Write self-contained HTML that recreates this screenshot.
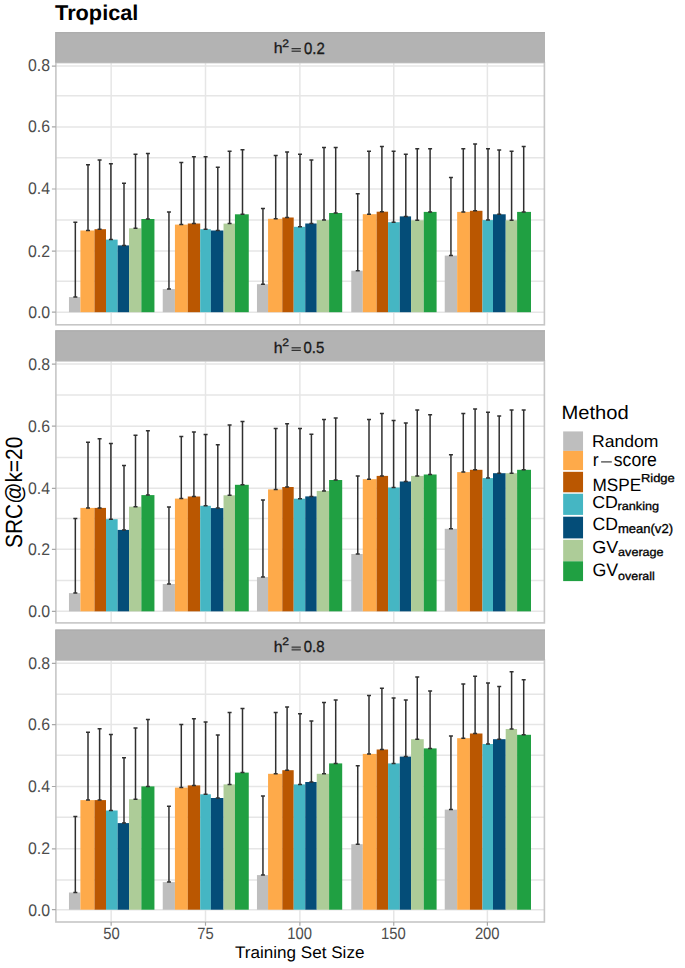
<!DOCTYPE html>
<html><head><meta charset="utf-8"><title>Tropical</title><style>
html,body{margin:0;padding:0;background:#fff;overflow:hidden;}
svg{display:block;}
text{font-family:"Liberation Sans",sans-serif;white-space:pre;text-rendering:geometricPrecision;}
</style></head><body>
<svg width="685" height="968" viewBox="0 0 685 968">
<rect x="0" y="0" width="685" height="968" fill="#fff"/>
<path d="M55.9 66.04H544.4M55.9 95.8H544.4M55.9 126.9H544.4M55.9 157.85H544.4M55.9 189H544.4M55.9 219.95H544.4M55.9 251.08H544.4M55.9 281.2H544.4M55.9 312.2H544.4M111.15 62.6V324.8M205.5 62.6V324.8M299.9 62.6V324.8M393.75 62.6V324.8M487.4 62.6V324.8" stroke="#E6E6E6" stroke-width="1.5" fill="none"/>
<rect x="68.96" y="297.1" width="11.44" height="15.1" fill="#BEBEBE"/>
<rect x="80.4" y="230.5" width="14.1" height="81.7" fill="#FEAA4A"/>
<rect x="94.5" y="229.2" width="11.5" height="83" fill="#BA5701"/>
<rect x="106" y="239.6" width="11.65" height="72.6" fill="#45B6C3"/>
<rect x="117.65" y="245.4" width="11.41" height="66.8" fill="#044D78"/>
<rect x="129.06" y="228.3" width="12.29" height="83.9" fill="#ADCC98"/>
<rect x="141.35" y="219" width="13.09" height="93.2" fill="#20A042"/>
<rect x="162.74" y="289.1" width="12.19" height="23.1" fill="#BEBEBE"/>
<rect x="174.93" y="224.6" width="12.85" height="87.6" fill="#FEAA4A"/>
<rect x="187.78" y="223.5" width="12.42" height="88.7" fill="#BA5701"/>
<rect x="200.2" y="229.2" width="10.65" height="83" fill="#45B6C3"/>
<rect x="210.85" y="230.5" width="12.69" height="81.7" fill="#044D78"/>
<rect x="223.54" y="223.6" width="11.41" height="88.6" fill="#ADCC98"/>
<rect x="234.95" y="214.3" width="13.81" height="97.9" fill="#20A042"/>
<rect x="256.96" y="284.2" width="11.1" height="28" fill="#BEBEBE"/>
<rect x="268.06" y="218.8" width="14.23" height="93.4" fill="#FEAA4A"/>
<rect x="282.29" y="217.5" width="11.41" height="94.7" fill="#BA5701"/>
<rect x="293.7" y="226.8" width="11.55" height="85.4" fill="#45B6C3"/>
<rect x="305.25" y="223.5" width="11.49" height="88.7" fill="#044D78"/>
<rect x="316.74" y="220.1" width="12.36" height="92.1" fill="#ADCC98"/>
<rect x="329.1" y="213" width="13.1" height="99.2" fill="#20A042"/>
<rect x="351.26" y="270.7" width="11.53" height="41.5" fill="#BEBEBE"/>
<rect x="362.79" y="214.2" width="13.87" height="98" fill="#FEAA4A"/>
<rect x="376.66" y="211.7" width="11.4" height="100.5" fill="#BA5701"/>
<rect x="388.06" y="222.2" width="11.74" height="90" fill="#45B6C3"/>
<rect x="399.8" y="216.4" width="11.26" height="95.8" fill="#044D78"/>
<rect x="411.06" y="220.3" width="12.69" height="91.9" fill="#ADCC98"/>
<rect x="423.75" y="211.9" width="12.85" height="100.3" fill="#20A042"/>
<rect x="444.74" y="255.6" width="12.41" height="56.6" fill="#BEBEBE"/>
<rect x="457.15" y="211.9" width="12.78" height="100.3" fill="#FEAA4A"/>
<rect x="469.93" y="210.8" width="12.52" height="101.4" fill="#BA5701"/>
<rect x="482.45" y="220.1" width="10.55" height="92.1" fill="#45B6C3"/>
<rect x="493" y="214.3" width="12.7" height="97.9" fill="#044D78"/>
<rect x="505.7" y="220.3" width="11.4" height="91.9" fill="#ADCC98"/>
<rect x="517.1" y="211.9" width="13.9" height="100.3" fill="#20A042"/>
<path d="M73.33 222.3H77.33M75.33 222.3V297.1M73.33 297.1H77.33M86 164.7H90M88 164.7V230.5M86 230.5H90M97.6 160.1H101.6M99.6 160.1V229.2M97.6 229.2H101.6M108.9 163.8H112.9M110.9 163.8V239.6M108.9 239.6H112.9M122 183.3H126M124 183.3V245.4M122 245.4H126M133.5 154.3H137.5M135.5 154.3V228.3M133.5 228.3H137.5M145.9 153.4H149.9M147.9 153.4V219M145.9 219H149.9M166.95 211.9H170.95M168.95 211.9V289.1M166.95 289.1H170.95M179.3 162.5H183.3M181.3 162.5V224.6M179.3 224.6H183.3M191.9 156.7H195.9M193.9 156.7V223.5M191.9 223.5H195.9M203.6 156.7H207.6M205.6 156.7V229.2M203.6 229.2H207.6M215.8 167.3H219.8M217.8 167.3V230.5M215.8 230.5H219.8M227.6 151.2H231.6M229.6 151.2V223.6M227.6 223.6H231.6M240.5 149.7H244.5M242.5 149.7V214.3M240.5 214.3H244.5M260.95 208.6H264.95M262.95 208.6V284.2M260.95 284.2H264.95M273.7 155.4H277.7M275.7 155.4V218.8M273.7 218.8H277.7M285.1 152.1H289.1M287.1 152.1V217.5M285.1 217.5H289.1M298 154.3H302M300 154.3V226.8M298 226.8H302M309.4 160.1H313.4M311.4 160.1V223.5M309.4 223.5H313.4M322 147.6H326M324 147.6V220.1M322 220.1H326M333.7 147.6H337.7M335.7 147.6V213M333.7 213H337.7M355.74 193.7H359.74M357.74 193.7V270.7M355.74 270.7H359.74M367 151.2H371M369 151.2V214.2M367 214.2H371M379.9 146.5H383.9M381.9 146.5V211.7M379.9 211.7H383.9M391.6 151.2H395.6M393.6 151.2V222.2M391.6 222.2H395.6M403.8 154.3H407.8M405.8 154.3V216.4M403.8 216.4H407.8M415.25 148.7H419.25M417.25 148.7V220.3M415.25 220.3H419.25M428.1 148.7H432.1M430.1 148.7V211.9M428.1 211.9H432.1M448.94 177.5H452.94M450.94 177.5V255.6M448.94 255.6H452.94M461.3 148.7H465.3M463.3 148.7V211.9M461.3 211.9H465.3M473.1 144.1H477.1M475.1 144.1V210.8M473.1 210.8H477.1M486 148.7H490M488 148.7V220.1M486 220.1H490M497.2 149.9H501.2M499.2 149.9V214.3M497.2 214.3H501.2M509.6 151.2H513.6M511.6 151.2V220.3M509.6 220.3H513.6M521.7 146.5H525.7M523.7 146.5V211.9M521.7 211.9H525.7" stroke="#303030" stroke-width="1.5" fill="none"/>
<rect x="55.9" y="62.6" width="488.5" height="262.2" fill="none" stroke="#C6C6C6" stroke-width="1.6"/>
<rect x="55.3" y="32" width="489.7" height="30.6" fill="#B3B3B3"/>
<path d="M55.9 62.6V32.6H545" stroke="#ADADAD" stroke-width="1.2" fill="none"/>
<rect x="291.6" y="48" width="9.2" height="3.8" fill="#939393"/><rect x="291.6" y="48" width="9.2" height="1.05" fill="#333"/><rect x="291.6" y="50.75" width="9.2" height="1.05" fill="#333"/>
<path d="M51.9 66.04H55.9M51.9 126.9H55.9M51.9 189H55.9M51.9 251.08H55.9M51.9 312.2H55.9" stroke="#A8A8A8" stroke-width="1.2" fill="none"/>
<path d="M55.9 364.04H544.4M55.9 394.9H544.4M55.9 426.15H544.4M55.9 457.4H544.4M55.9 488.3H544.4M55.9 518.6H544.4M55.9 549.34H544.4M55.9 580.5H544.4M55.9 611.35H544.4M111.15 360.9V622.9M205.5 360.9V622.9M299.9 360.9V622.9M393.75 360.9V622.9M487.4 360.9V622.9" stroke="#E6E6E6" stroke-width="1.5" fill="none"/>
<rect x="68.96" y="593.1" width="11.44" height="18.25" fill="#BEBEBE"/>
<rect x="80.4" y="507.9" width="14.1" height="103.45" fill="#FEAA4A"/>
<rect x="94.5" y="507.9" width="11.5" height="103.45" fill="#BA5701"/>
<rect x="106" y="519.2" width="11.65" height="92.15" fill="#45B6C3"/>
<rect x="117.65" y="529.9" width="11.41" height="81.45" fill="#044D78"/>
<rect x="129.06" y="506.7" width="12.29" height="104.65" fill="#ADCC98"/>
<rect x="141.35" y="495.1" width="13.09" height="116.25" fill="#20A042"/>
<rect x="162.74" y="584" width="12.19" height="27.35" fill="#BEBEBE"/>
<rect x="174.93" y="498.6" width="12.85" height="112.75" fill="#FEAA4A"/>
<rect x="187.78" y="496.5" width="12.42" height="114.85" fill="#BA5701"/>
<rect x="200.2" y="505.8" width="10.65" height="105.55" fill="#45B6C3"/>
<rect x="210.85" y="508.1" width="12.69" height="103.25" fill="#044D78"/>
<rect x="223.54" y="495.3" width="11.41" height="116.05" fill="#ADCC98"/>
<rect x="234.95" y="484.8" width="13.81" height="126.55" fill="#20A042"/>
<rect x="256.96" y="577.1" width="11.1" height="34.25" fill="#BEBEBE"/>
<rect x="268.06" y="489.4" width="14.23" height="121.95" fill="#FEAA4A"/>
<rect x="282.29" y="487" width="11.41" height="124.35" fill="#BA5701"/>
<rect x="293.7" y="498.7" width="11.55" height="112.65" fill="#45B6C3"/>
<rect x="305.25" y="496.4" width="11.49" height="114.95" fill="#044D78"/>
<rect x="316.74" y="490.9" width="12.36" height="120.45" fill="#ADCC98"/>
<rect x="329.1" y="480" width="13.1" height="131.35" fill="#20A042"/>
<rect x="351.26" y="554" width="11.53" height="57.35" fill="#BEBEBE"/>
<rect x="362.79" y="479.2" width="13.87" height="132.15" fill="#FEAA4A"/>
<rect x="376.66" y="475.9" width="11.4" height="135.45" fill="#BA5701"/>
<rect x="388.06" y="487.5" width="11.74" height="123.85" fill="#45B6C3"/>
<rect x="399.8" y="481.5" width="11.26" height="129.85" fill="#044D78"/>
<rect x="411.06" y="475.9" width="12.69" height="135.45" fill="#ADCC98"/>
<rect x="423.75" y="474.5" width="12.85" height="136.85" fill="#20A042"/>
<rect x="444.74" y="528.8" width="12.41" height="82.55" fill="#BEBEBE"/>
<rect x="457.15" y="472.1" width="12.78" height="139.25" fill="#FEAA4A"/>
<rect x="469.93" y="469.8" width="12.52" height="141.55" fill="#BA5701"/>
<rect x="482.45" y="478.1" width="10.55" height="133.25" fill="#45B6C3"/>
<rect x="493" y="473.2" width="12.7" height="138.15" fill="#044D78"/>
<rect x="505.7" y="473.2" width="11.4" height="138.15" fill="#ADCC98"/>
<rect x="517.1" y="469.8" width="13.9" height="141.55" fill="#20A042"/>
<path d="M73.33 518.4H77.33M75.33 518.4V593.1M73.33 593.1H77.33M86 442.3H90M88 442.3V507.9M86 507.9H90M97.6 438.8H101.6M99.6 438.8V507.9M97.6 507.9H101.6M108.9 443.5H112.9M110.9 443.5V519.2M108.9 519.2H112.9M122 465.4H126M124 465.4V529.9M122 529.9H126M133.5 435.2H137.5M135.5 435.2V506.7M133.5 506.7H137.5M145.9 430.7H149.9M147.9 430.7V495.1M145.9 495.1H149.9M166.95 507.1H170.95M168.95 507.1V584M166.95 584H170.95M179.3 436.6H183.3M181.3 436.6V498.6M179.3 498.6H183.3M191.9 432.1H195.9M193.9 432.1V496.5M191.9 496.5H195.9M203.6 434.6H207.6M205.6 434.6V505.8M203.6 505.8H207.6M215.8 444.7H219.8M217.8 444.7V508.1M215.8 508.1H219.8M227.6 425.1H231.6M229.6 425.1V495.3M227.6 495.3H231.6M240.5 421.6H244.5M242.5 421.6V484.8M240.5 484.8H244.5M260.95 500H264.95M262.95 500V577.1M260.95 577.1H264.95M273.7 428.5H277.7M275.7 428.5V489.4M273.7 489.4H277.7M285.1 423.8H289.1M287.1 423.8V487M285.1 487H289.1M298 428.5H302M300 428.5V498.7M298 498.7H302M309.4 434.3H313.4M311.4 434.3V496.4M309.4 496.4H313.4M322 419.4H326M324 419.4V490.9M322 490.9H326M333.7 418.1H337.7M335.7 418.1V480M333.7 480H337.7M355.74 475.9H359.74M357.74 475.9V554M355.74 554H359.74M367 419.4H371M369 419.4V479.2M367 479.2H371M379.9 413.4H383.9M381.9 413.4V475.9M379.9 475.9H383.9M391.6 420.5H395.6M393.6 420.5V487.5M391.6 487.5H395.6M403.8 423H407.8M405.8 423V481.5M403.8 481.5H407.8M415.25 410H419.25M417.25 410V475.9M415.25 475.9H419.25M428.1 414.7H432.1M430.1 414.7V474.5M428.1 474.5H432.1M448.94 454.7H452.94M450.94 454.7V528.8M448.94 528.8H452.94M461.3 413.4H465.3M463.3 413.4V472.1M461.3 472.1H465.3M473.1 408.9H477.1M475.1 408.9V469.8M473.1 469.8H477.1M486 412.3H490M488 412.3V478.1M486 478.1H490M497.2 416.1H501.2M499.2 416.1V473.2M497.2 473.2H501.2M509.6 410H513.6M511.6 410V473.2M509.6 473.2H513.6M521.7 410H525.7M523.7 410V469.8M521.7 469.8H525.7" stroke="#303030" stroke-width="1.5" fill="none"/>
<rect x="55.9" y="360.9" width="488.5" height="262" fill="none" stroke="#C6C6C6" stroke-width="1.6"/>
<rect x="55.3" y="330.3" width="489.7" height="30.6" fill="#B3B3B3"/>
<path d="M55.9 360.9V330.9H545" stroke="#ADADAD" stroke-width="1.2" fill="none"/>
<rect x="291.6" y="347.2" width="9.2" height="3.8" fill="#939393"/><rect x="291.6" y="347.2" width="9.2" height="1.05" fill="#333"/><rect x="291.6" y="349.95" width="9.2" height="1.05" fill="#333"/>
<path d="M51.9 364.04H55.9M51.9 426.15H55.9M51.9 488.3H55.9M51.9 549.34H55.9M51.9 611.35H55.9" stroke="#A8A8A8" stroke-width="1.2" fill="none"/>
<path d="M55.9 663.3H544.4M55.9 694.2H544.4M55.9 724.6H544.4M55.9 755.34H544.4M55.9 786.5H544.4M55.9 817.2H544.4M55.9 848.8H544.4M55.9 879.95H544.4M55.9 909.7H544.4M111.15 660.1V922M205.5 660.1V922M299.9 660.1V922M393.75 660.1V922M487.4 660.1V922" stroke="#E6E6E6" stroke-width="1.5" fill="none"/>
<rect x="68.96" y="892.5" width="11.44" height="17.2" fill="#BEBEBE"/>
<rect x="80.4" y="800.1" width="14.1" height="109.6" fill="#FEAA4A"/>
<rect x="94.5" y="800.1" width="11.5" height="109.6" fill="#BA5701"/>
<rect x="106" y="810.5" width="11.65" height="99.2" fill="#45B6C3"/>
<rect x="117.65" y="823.1" width="11.41" height="86.6" fill="#044D78"/>
<rect x="129.06" y="799.2" width="12.29" height="110.5" fill="#ADCC98"/>
<rect x="141.35" y="786.4" width="13.09" height="123.3" fill="#20A042"/>
<rect x="162.74" y="882.1" width="12.19" height="27.6" fill="#BEBEBE"/>
<rect x="174.93" y="787.6" width="12.85" height="122.1" fill="#FEAA4A"/>
<rect x="187.78" y="785.4" width="12.42" height="124.3" fill="#BA5701"/>
<rect x="200.2" y="794.3" width="10.65" height="115.4" fill="#45B6C3"/>
<rect x="210.85" y="798" width="12.69" height="111.7" fill="#044D78"/>
<rect x="223.54" y="784.4" width="11.41" height="125.3" fill="#ADCC98"/>
<rect x="234.95" y="772.6" width="13.81" height="137.1" fill="#20A042"/>
<rect x="256.96" y="875.1" width="11.1" height="34.6" fill="#BEBEBE"/>
<rect x="268.06" y="773.8" width="14.23" height="135.9" fill="#FEAA4A"/>
<rect x="282.29" y="770.2" width="11.41" height="139.5" fill="#BA5701"/>
<rect x="293.7" y="784.4" width="11.55" height="125.3" fill="#45B6C3"/>
<rect x="305.25" y="782" width="11.49" height="127.7" fill="#044D78"/>
<rect x="316.74" y="773.8" width="12.36" height="135.9" fill="#ADCC98"/>
<rect x="329.1" y="763.4" width="13.1" height="146.3" fill="#20A042"/>
<rect x="351.26" y="844.2" width="11.53" height="65.5" fill="#BEBEBE"/>
<rect x="362.79" y="753.9" width="13.87" height="155.8" fill="#FEAA4A"/>
<rect x="376.66" y="749.5" width="11.4" height="160.2" fill="#BA5701"/>
<rect x="388.06" y="763.4" width="11.74" height="146.3" fill="#45B6C3"/>
<rect x="399.8" y="756.6" width="11.26" height="153.1" fill="#044D78"/>
<rect x="411.06" y="739.2" width="12.69" height="170.5" fill="#ADCC98"/>
<rect x="423.75" y="748.4" width="12.85" height="161.3" fill="#20A042"/>
<rect x="444.74" y="809.6" width="12.41" height="100.1" fill="#BEBEBE"/>
<rect x="457.15" y="738.2" width="12.78" height="171.5" fill="#FEAA4A"/>
<rect x="469.93" y="733.5" width="12.52" height="176.2" fill="#BA5701"/>
<rect x="482.45" y="744" width="10.55" height="165.7" fill="#45B6C3"/>
<rect x="493" y="739.2" width="12.7" height="170.5" fill="#044D78"/>
<rect x="505.7" y="729" width="11.4" height="180.7" fill="#ADCC98"/>
<rect x="517.1" y="734.8" width="13.9" height="174.9" fill="#20A042"/>
<path d="M73.33 816.6H77.33M75.33 816.6V892.5M73.33 892.5H77.33M86 732.2H90M88 732.2V800.1M86 800.1H90M97.6 728.8H101.6M99.6 728.8V800.1M97.6 800.1H101.6M108.9 734.6H112.9M110.9 734.6V810.5M108.9 810.5H112.9M122 757.8H126M124 757.8V823.1M122 823.1H126M133.5 727.9H137.5M135.5 727.9V799.2M133.5 799.2H137.5M145.9 719.4H149.9M147.9 719.4V786.4M145.9 786.4H149.9M166.95 806.2H170.95M168.95 806.2V882.1M166.95 882.1H170.95M179.3 724.5H183.3M181.3 724.5V787.6M179.3 787.6H183.3M191.9 718.7H195.9M193.9 718.7V785.4M191.9 785.4H195.9M203.6 722.1H207.6M205.6 722.1V794.3M203.6 794.3H207.6M215.8 734.9H219.8M217.8 734.9V798M215.8 798H219.8M227.6 712.6H231.6M229.6 712.6V784.4M227.6 784.4H231.6M240.5 708.5H244.5M242.5 708.5V772.6M240.5 772.6H244.5M260.95 796H264.95M262.95 796V875.1M260.95 875.1H264.95M273.7 712.6H277.7M275.7 712.6V773.8M273.7 773.8H277.7M285.1 707.1H289.1M287.1 707.1V770.2M285.1 770.2H289.1M298 713.8H302M300 713.8V784.4M298 784.4H302M309.4 721.1H313.4M311.4 721.1V782M309.4 782H313.4M322 702.5H326M324 702.5V773.8M322 773.8H326M333.7 700.1H337.7M335.7 700.1V763.4M333.7 763.4H337.7M355.74 765.7H359.74M357.74 765.7V844.2M355.74 844.2H359.74M367 695.4H371M369 695.4V753.9M367 753.9H371M379.9 688.3H383.9M381.9 688.3V749.5M379.9 749.5H383.9M391.6 698H395.6M393.6 698V763.4M391.6 763.4H395.6M403.8 700.1H407.8M405.8 700.1V756.6M403.8 756.6H407.8M415.25 677.1H419.25M417.25 677.1V739.2M415.25 739.2H419.25M428.1 691H432.1M430.1 691V748.4M428.1 748.4H432.1M448.94 736.1H452.94M450.94 736.1V809.6M448.94 809.6H452.94M461.3 684.1H465.3M463.3 684.1V738.2M461.3 738.2H465.3M473.1 676.3H477.1M475.1 676.3V733.5M473.1 733.5H477.1M486 683.1H490M488 683.1V744M486 744H490M497.2 686.5H501.2M499.2 686.5V739.2M497.2 739.2H501.2M509.6 671.8H513.6M511.6 671.8V729M509.6 729H513.6M521.7 679.7H525.7M523.7 679.7V734.8M521.7 734.8H525.7" stroke="#303030" stroke-width="1.5" fill="none"/>
<rect x="55.9" y="660.1" width="488.5" height="261.9" fill="none" stroke="#C6C6C6" stroke-width="1.6"/>
<rect x="55.3" y="629.6" width="489.7" height="30.5" fill="#B3B3B3"/>
<path d="M55.9 660.1V630.2H545" stroke="#ADADAD" stroke-width="1.2" fill="none"/>
<rect x="291.6" y="646.6" width="9.2" height="3.8" fill="#939393"/><rect x="291.6" y="646.6" width="9.2" height="1.05" fill="#333"/><rect x="291.6" y="649.35" width="9.2" height="1.05" fill="#333"/>
<path d="M51.9 663.3H55.9M51.9 724.6H55.9M51.9 786.5H55.9M51.9 848.8H55.9M51.9 909.7H55.9" stroke="#A8A8A8" stroke-width="1.2" fill="none"/>
<path d="M111.15 922V925.8M205.5 922V925.8M299.9 922V925.8M393.75 922V925.8M487.4 922V925.8" stroke="#A8A8A8" stroke-width="1.2" fill="none"/>
<rect x="563.16" y="431.42" width="19.88" height="19.48" fill="#BEBEBE"/>
<rect x="563.16" y="450.9" width="19.88" height="19.2" fill="#FEAA4A"/>
<rect x="563.16" y="471.8" width="19.88" height="20.5" fill="#BA5701"/>
<rect x="563.16" y="493.74" width="19.88" height="21.16" fill="#45B6C3"/>
<rect x="563.16" y="516.7" width="19.88" height="21.7" fill="#044D78"/>
<rect x="563.16" y="539.8" width="19.88" height="21.5" fill="#ADCC98"/>
<rect x="563.16" y="561.3" width="19.88" height="19.8" fill="#20A042"/>
<rect x="601.1" y="461.25" width="10.7" height="1.3" fill="#4A4A4A"/>
<text id="title" transform="translate(55.061,19.72) scale(0.997,0.981)" font-size="21.8" font-weight="bold" fill="#000">Tropical</text>
<text id="s0_h" transform="translate(273.63,53.239) scale(1.043,0.988)" font-size="15.2" fill="#1A1A1A" stroke="#1A1A1A" stroke-width="0.3">h</text>
<text id="s0_2" transform="translate(282.178,46.702) scale(1.145,1.014)" font-size="10.6" fill="#1A1A1A" stroke="#1A1A1A" stroke-width="0.3">2</text>
<text id="s0_v" transform="translate(304.023,53.735) scale(0.981,1.074)" font-size="15.2" fill="#1A1A1A" stroke="#1A1A1A" stroke-width="0.3">0.2</text>
<text id="s1_h" transform="translate(273.687,352.912) scale(1.043,1.008)" font-size="15.2" fill="#1A1A1A" stroke="#1A1A1A" stroke-width="0.3">h</text>
<text id="s1_2" transform="translate(282.268,346.131) scale(1.145,1.014)" font-size="10.6" fill="#1A1A1A" stroke="#1A1A1A" stroke-width="0.3">2</text>
<text id="s1_v" transform="translate(303.553,352.842) scale(0.981,1.053)" font-size="15.2" fill="#1A1A1A" stroke="#1A1A1A" stroke-width="0.3">0.5</text>
<text id="s2_h" transform="translate(273.687,652.312) scale(1.043,1.008)" font-size="15.2" fill="#1A1A1A" stroke="#1A1A1A" stroke-width="0.3">h</text>
<text id="s2_2" transform="translate(282.268,644.781) scale(1.145,1.014)" font-size="10.6" fill="#1A1A1A" stroke="#1A1A1A" stroke-width="0.3">2</text>
<text id="s2_v" transform="translate(303.752,651.96) scale(0.981,1.053)" font-size="15.2" fill="#1A1A1A" stroke="#1A1A1A" stroke-width="0.3">0.8</text>
<text id="y0_0" transform="translate(50.139,317.671) scale(1.042,1.106)" font-size="15.2" text-anchor="end" fill="#4D4D4D">0.0</text>
<text id="y0_1" transform="translate(49.967,256.572) scale(1.042,1.106)" font-size="15.2" text-anchor="end" fill="#4D4D4D">0.2</text>
<text id="y0_2" transform="translate(49.956,193.589) scale(1.042,1.106)" font-size="15.2" text-anchor="end" fill="#4D4D4D">0.4</text>
<text id="y0_3" transform="translate(49.944,131.67) scale(1.042,1.106)" font-size="15.2" text-anchor="end" fill="#4D4D4D">0.6</text>
<text id="y0_4" transform="translate(50.027,70.543) scale(1.042,1.129)" font-size="15.2" text-anchor="end" fill="#4D4D4D">0.8</text>
<text id="y1_0" transform="translate(50.139,616.841) scale(1.042,1.106)" font-size="15.2" text-anchor="end" fill="#4D4D4D">0.0</text>
<text id="y1_1" transform="translate(49.967,554.612) scale(1.042,1.106)" font-size="15.2" text-anchor="end" fill="#4D4D4D">0.2</text>
<text id="y1_2" transform="translate(49.956,493.629) scale(1.042,1.106)" font-size="15.2" text-anchor="end" fill="#4D4D4D">0.4</text>
<text id="y1_3" transform="translate(49.944,431.53) scale(1.042,1.106)" font-size="15.2" text-anchor="end" fill="#4D4D4D">0.6</text>
<text id="y1_4" transform="translate(50.149,369.934) scale(1.042,1.106)" font-size="15.2" text-anchor="end" fill="#4D4D4D">0.8</text>
<text id="y2_0" transform="translate(50.139,915.641) scale(1.042,1.106)" font-size="15.2" text-anchor="end" fill="#4D4D4D">0.0</text>
<text id="y2_1" transform="translate(49.967,853.552) scale(1.042,1.106)" font-size="15.2" text-anchor="end" fill="#4D4D4D">0.2</text>
<text id="y2_2" transform="translate(49.956,791.719) scale(1.042,1.106)" font-size="15.2" text-anchor="end" fill="#4D4D4D">0.4</text>
<text id="y2_3" transform="translate(49.944,729.54) scale(1.042,1.106)" font-size="15.2" text-anchor="end" fill="#4D4D4D">0.6</text>
<text id="y2_4" transform="translate(50.149,668.564) scale(1.042,1.106)" font-size="15.2" text-anchor="end" fill="#4D4D4D">0.8</text>
<text id="x0" transform="translate(111.393,938.682) scale(0.962,1.071)" font-size="15.4" text-anchor="middle" fill="#4D4D4D">50</text>
<text id="x1" transform="translate(205.575,938.683) scale(0.962,1.071)" font-size="15.4" text-anchor="middle" fill="#4D4D4D">75</text>
<text id="x2" transform="translate(299.628,938.749) scale(0.962,1.082)" font-size="15.4" text-anchor="middle" fill="#4D4D4D">100</text>
<text id="x3" transform="translate(393.322,939.374) scale(0.962,1.071)" font-size="15.4" text-anchor="middle" fill="#4D4D4D">150</text>
<text id="x4" transform="translate(487.239,938.619) scale(0.962,1.071)" font-size="15.4" text-anchor="middle" fill="#4D4D4D">200</text>
<text id="xtitle" transform="translate(299.711,957.653) scale(1.018,0.995)" font-size="16.8" text-anchor="middle" fill="#000">Training Set Size</text>
<text id="ytitle" transform="translate(21.614,492.317) rotate(-90) scale(1.03,1.155)" font-size="20.3" text-anchor="middle" fill="#000">SRC@k=20</text>
<text id="ltitle" transform="translate(561.43,419.046) scale(1.067,1.019)" font-size="18.9" fill="#000">Method</text>
<text id="l_random" transform="translate(592.031,447.299) scale(1.099,1.06)" font-size="16" fill="#000">Random</text>
<text id="l_r" transform="translate(592.723,465.81) scale(1.1,1.156)" font-size="16" fill="#000">r</text>
<text id="l_score" transform="translate(613.819,465.666) scale(1.1,1.179)" font-size="16" fill="#000">score</text>
<text id="l_mspe" transform="translate(592.443,490.61) scale(1.076,1.116)" font-size="16" fill="#000">MSPE</text>
<text id="l_ridge" transform="translate(640.914,481.699) scale(1.118,1)" font-size="11.6" fill="#000" stroke="#000" stroke-width="0.3">Ridge</text>
<text id="l_cd1" transform="translate(592.191,508.101) scale(1.113,1.08)" font-size="16" fill="#000">CD</text>
<text id="l_rank" transform="translate(617.537,509.542) scale(1.094,1.009)" font-size="11.6" fill="#000" stroke="#000" stroke-width="0.3">ranking</text>
<text id="l_cd2" transform="translate(592.523,530.095) scale(1.102,1.122)" font-size="16" fill="#000">CD</text>
<text id="l_mean" transform="translate(617.886,533.115) scale(1.125,1.114)" font-size="11.6" fill="#000" stroke="#000" stroke-width="0.3">mean(v2)</text>
<text id="l_gv1" transform="translate(592.279,552.582) scale(1.125,1.087)" font-size="16" fill="#000">GV</text>
<text id="l_avg" transform="translate(618.113,555.621) scale(1.086,1.012)" font-size="11.6" fill="#000" stroke="#000" stroke-width="0.3">average</text>
<text id="l_gv2" transform="translate(592.471,575.557) scale(1.114,1.125)" font-size="16" fill="#000">GV</text>
<text id="l_ovr" transform="translate(618.069,579.691) scale(1.076,1.003)" font-size="11.6" fill="#000" stroke="#000" stroke-width="0.3">overall</text>
</svg>
</body></html>
